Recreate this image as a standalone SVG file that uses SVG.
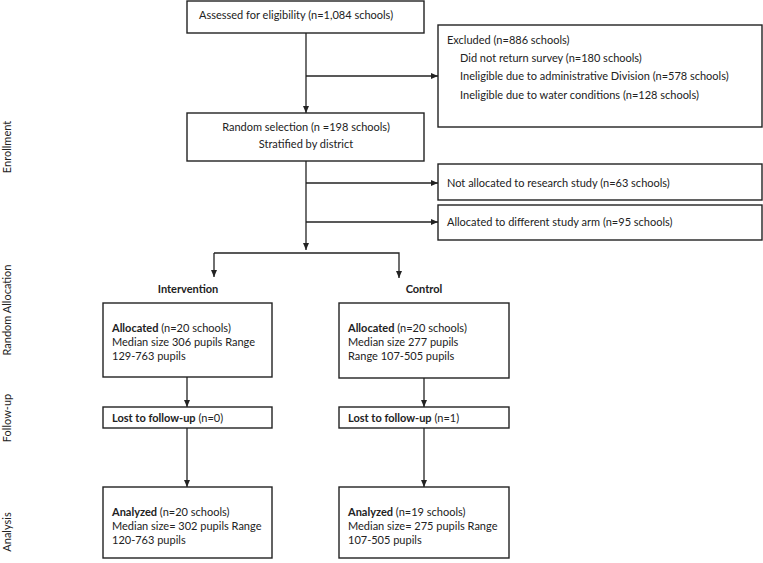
<svg xmlns="http://www.w3.org/2000/svg" width="763" height="563" viewBox="0 0 763 563">
<style>
.box{fill:#fff;stroke:#222;stroke-width:1.4}
.t{font-family:Lato,"Liberation Sans",sans-serif;font-size:11px;fill:#222}
.b{font-weight:bold}
.c{text-anchor:middle}
.side{font-family:Lato,"Liberation Sans",sans-serif;font-size:11px;fill:#222;text-anchor:middle}
.ln{fill:none;stroke:#222;stroke-width:1.3}
</style>
<defs>
<marker id="ah" markerWidth="8" markerHeight="8" refX="7" refY="4" orient="auto" markerUnits="userSpaceOnUse">
<path d="M0,1 L7,4 L0,7 Z" fill="#222"/>
</marker>
</defs>
<rect width="763" height="563" fill="#fff"/>
<g id="connectors">
<path class="ln" d="M306,33 V113" marker-end="url(#ah)"/>
<path class="ln" d="M306,76 H438" marker-end="url(#ah)"/>
<path class="ln" d="M306,161 V250" marker-end="url(#ah)"/>
<path class="ln" d="M306,183 H438" marker-end="url(#ah)"/>
<path class="ln" d="M306,222 H438" marker-end="url(#ah)"/>
<path class="ln" d="M214,253 H399 V278" marker-end="url(#ah)"/>
<path class="ln" d="M214,253 V277" marker-end="url(#ah)"/>
<path class="ln" d="M187,377 V407" marker-end="url(#ah)"/>
<path class="ln" d="M424,378 V407" marker-end="url(#ah)"/>
<path class="ln" d="M187,428 V487" marker-end="url(#ah)"/>
<path class="ln" d="M424,428 V487" marker-end="url(#ah)"/>
</g>
<g id="side-labels">
<text class="side" transform="translate(11,147) rotate(-90)">Enrollment</text>
<text class="side" transform="translate(11,310) rotate(-90)">Random  Allocation</text>
<text class="side" transform="translate(11,418) rotate(-90)">Follow-up</text>
<text class="side" transform="translate(11,532) rotate(-90)">Analysis</text>
</g>
<g id="assessed">
<rect class="box" x="187" y="1" width="237" height="32"/>
<text class="t" x="199" y="19">Assessed for eligibility (n=1,084 schools)</text>
</g>
<g id="excluded">
<rect class="box" x="438" y="25" width="324" height="102"/>
<text class="t" x="447" y="44">Excluded (n=886 schools)</text>
<text class="t" x="460" y="62">Did not return survey (n=180 schools)</text>
<text class="t" x="460" y="80">Ineligible due to administrative Division (n=578 schools)</text>
<text class="t" x="460" y="99">Ineligible due to water conditions (n=128 schools)</text>
</g>
<g id="random">
<rect class="box" x="187" y="113" width="237" height="48"/>
<text class="t c" x="306" y="131">Random selection (n =198 schools)</text>
<text class="t c" x="306" y="148">Stratified by district</text>
</g>
<g id="notallocated">
<rect class="box" x="438" y="164" width="324" height="36"/>
<text class="t" x="447" y="187">Not allocated to research study  (n=63 schools)</text>
</g>
<g id="differentarm">
<rect class="box" x="438" y="205" width="324" height="35"/>
<text class="t" x="447" y="226">Allocated to different study arm (n=95 schools)</text>
</g>
<g id="intervention-label"><text class="t b c" x="188" y="293">Intervention</text></g>
<g id="control-label"><text class="t b c" x="424" y="293">Control</text></g>
<g id="int-allocated">
<rect class="box" x="103" y="303" width="169" height="74"/>
<text class="t" x="112" y="332"><tspan class="b">Allocated</tspan> (n=20 schools)</text>
<text class="t" x="112" y="346">Median size 306 pupils Range</text>
<text class="t" x="112" y="360">129-763 pupils</text>
</g>
<g id="ctl-allocated">
<rect class="box" x="339" y="303" width="170" height="75"/>
<text class="t" x="348" y="332"><tspan class="b">Allocated</tspan> (n=20 schools)</text>
<text class="t" x="348" y="346">Median size 277 pupils</text>
<text class="t" x="348" y="360">Range 107-505 pupils</text>
</g>
<g id="int-lost">
<rect class="box" x="103" y="407" width="169" height="21"/>
<text class="t" x="112" y="422"><tspan class="b">Lost to follow-up</tspan> (n=0)</text>
</g>
<g id="ctl-lost">
<rect class="box" x="339" y="407" width="170" height="21"/>
<text class="t" x="348" y="422"><tspan class="b">Lost to follow-up</tspan> (n=1)</text>
</g>
<g id="int-analyzed">
<rect class="box" x="103" y="487" width="169" height="71"/>
<text class="t" x="112" y="516"><tspan class="b">Analyzed</tspan> (n=20 schools)</text>
<text class="t" x="112" y="530">Median size=  302 pupils Range</text>
<text class="t" x="112" y="544">120-763 pupils</text>
</g>
<g id="ctl-analyzed">
<rect class="box" x="339" y="487" width="170" height="71"/>
<text class="t" x="348" y="516"><tspan class="b">Analyzed</tspan> (n=19 schools)</text>
<text class="t" x="348" y="530">Median size= 275 pupils Range</text>
<text class="t" x="348" y="544">107-505  pupils</text>
</g>
</svg>
